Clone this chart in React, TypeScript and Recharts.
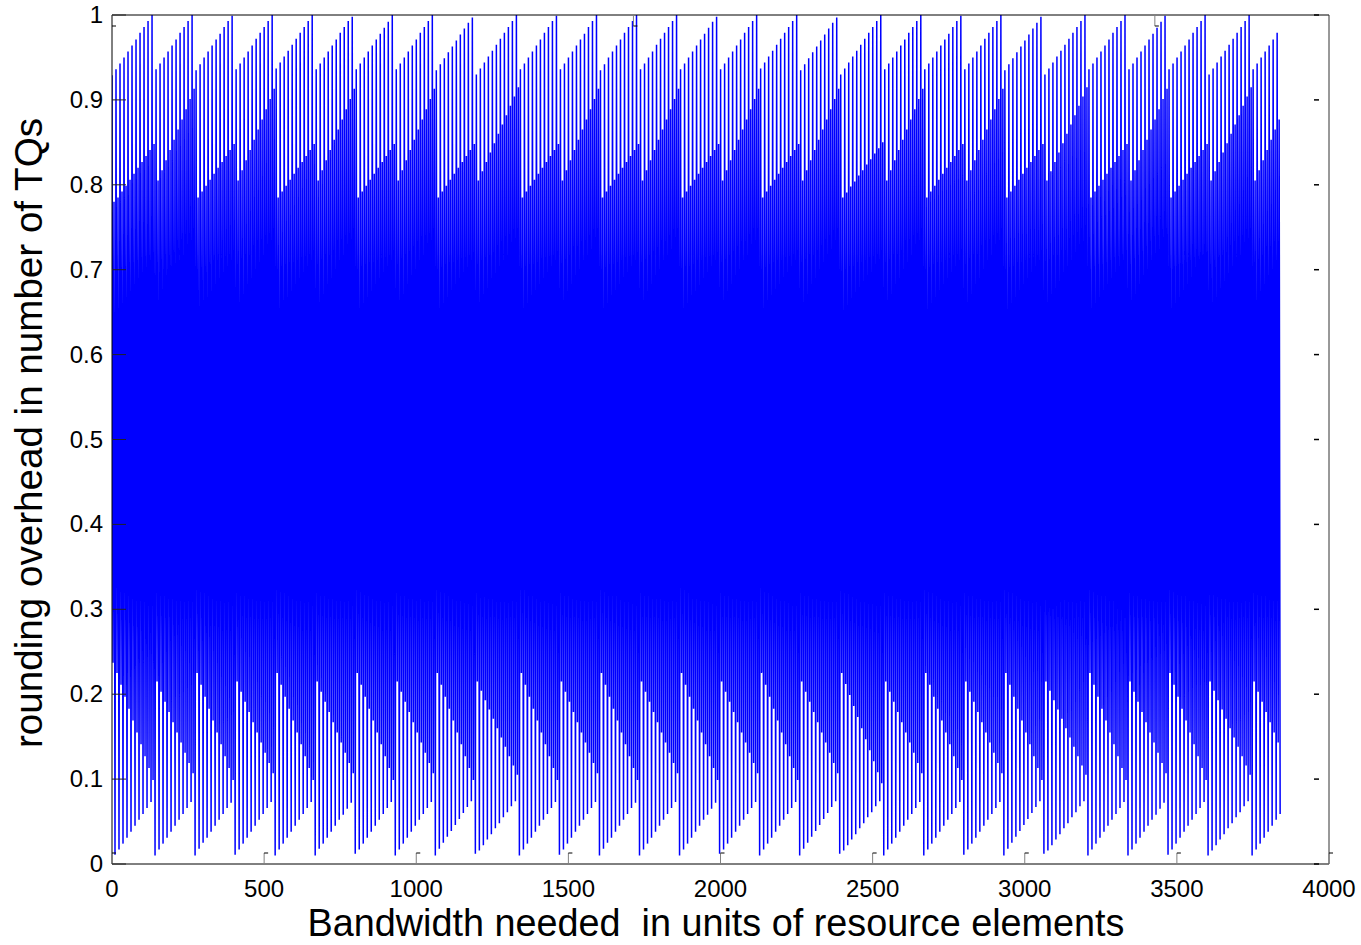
import { LineChart, Line, XAxis, YAxis } from 'recharts'

// axis ticks
const xTicks = [0, 500, 1000, 1500, 2000, 2500, 3000, 3500, 4000]
const yTicks = [0, 0.1, 0.2, 0.3, 0.4, 0.5, 0.6, 0.7, 0.8, 0.9, 1]

// one entry per visible tooth (about 13.16 resource elements wide)
// tallest peak of each tooth
const peakTop = [
    0.929, 0.936, 0.943, 0.950, 0.957, 0.964, 0.971, 0.979, 0.986, 0.993, 1.000,
    0.936, 0.943, 0.950, 0.957, 0.964, 0.971, 0.979, 0.986, 0.993, 1.000,
    0.935, 0.942, 0.950, 0.957, 0.964, 0.971, 0.978, 0.986, 0.993, 0.999,
    0.936, 0.943, 0.950, 0.957, 0.964, 0.972, 0.979, 0.986, 0.993, 1.000,
    0.937, 0.944, 0.951, 0.958, 0.965, 0.972, 0.979, 0.986, 0.993, 1.000,
    0.936, 0.943, 0.950, 0.957, 0.964, 0.971, 0.979, 0.986, 0.993, 0.998,
    0.936, 0.943, 0.950, 0.957, 0.964, 0.971, 0.978, 0.985, 0.992, 1.000,
    0.936, 0.943, 0.950, 0.957, 0.964, 0.971, 0.979, 0.986, 0.993, 1.000,
    0.935, 0.942, 0.949, 0.956, 0.963, 0.970, 0.977, 0.984, 0.991, 0.997,
    0.930, 0.937, 0.944, 0.951, 0.958, 0.965, 0.972, 0.979, 0.986, 0.993, 1.000,
    0.936, 0.943, 0.950, 0.957, 0.964, 0.971, 0.979, 0.986, 0.993, 0.999,
    0.936, 0.943, 0.950, 0.957, 0.964, 0.971, 0.978, 0.986, 0.993, 1.000,
    0.935, 0.942, 0.950, 0.957, 0.964, 0.971, 0.979, 0.986, 0.993, 1.000,
    0.936, 0.943, 0.950, 0.957, 0.965, 0.972, 0.979, 0.986, 0.993, 1.000,
    0.936, 0.943, 0.950, 0.957, 0.964, 0.971, 0.978, 0.985, 0.992, 0.998,
    0.936, 0.943, 0.950, 0.957, 0.964, 0.971, 0.979, 0.986, 0.993, 1.000,
    0.937, 0.944, 0.951, 0.958, 0.965, 0.972, 0.979, 0.986, 0.993, 1.000,
    0.935, 0.942, 0.949, 0.956, 0.963, 0.970, 0.977, 0.984, 0.991, 0.997,
    0.930, 0.937, 0.944, 0.951, 0.958, 0.965, 0.972, 0.979, 0.986, 0.993, 1.000,
    0.936, 0.943, 0.950, 0.957, 0.964, 0.971, 0.979, 0.986, 0.993, 1.000,
    0.936, 0.943, 0.950, 0.957, 0.964, 0.971, 0.978, 0.986, 0.993, 0.999,
    0.936, 0.943, 0.950, 0.957, 0.964, 0.972, 0.979, 0.986, 0.993, 1.000,
    0.935, 0.942, 0.949, 0.956, 0.963, 0.970, 0.977, 0.984, 0.991, 0.998,
    0.930, 0.937, 0.944, 0.951, 0.958, 0.965, 0.972, 0.979, 0.986, 0.993, 1.000,
    0.936, 0.943, 0.950, 0.957, 0.964, 0.971, 0.979, 0.986, 0.993, 1.000,
    0.936, 0.943, 0.950, 0.957, 0.964, 0.971, 0.978, 0.985, 0.992, 0.999,
    0.936, 0.943, 0.950, 0.957, 0.964, 0.971, 0.979, 0.986, 0.993, 1.000,
    0.930, 0.937, 0.944, 0.951, 0.958, 0.965, 0.972, 0.979, 0.986, 0.993, 1.000,
    0.936, 0.943, 0.950, 0.957, 0.964, 0.971, 0.979,
]

// lower edge of the dense part, right after the tall peak
const innerTrough = [
    0.237, 0.225, 0.211, 0.197, 0.183, 0.169, 0.155, 0.141, 0.127, 0.113, 0.099,
    0.215, 0.203, 0.191, 0.179, 0.167, 0.155, 0.143, 0.131, 0.119, 0.107,
    0.225, 0.211, 0.197, 0.183, 0.169, 0.155, 0.141, 0.127, 0.113, 0.099,
    0.215, 0.203, 0.191, 0.179, 0.167, 0.155, 0.143, 0.131, 0.119, 0.107,
    0.225, 0.211, 0.197, 0.183, 0.169, 0.155, 0.141, 0.127, 0.113, 0.099,
    0.215, 0.203, 0.191, 0.179, 0.167, 0.155, 0.143, 0.131, 0.119, 0.107,
    0.225, 0.211, 0.197, 0.183, 0.169, 0.155, 0.141, 0.127, 0.113, 0.099,
    0.215, 0.203, 0.191, 0.179, 0.167, 0.155, 0.143, 0.131, 0.119, 0.107,
    0.225, 0.211, 0.197, 0.183, 0.169, 0.155, 0.141, 0.127, 0.113, 0.099,
    0.215, 0.204, 0.193, 0.182, 0.171, 0.160, 0.149, 0.138, 0.127, 0.116, 0.105,
    0.225, 0.211, 0.197, 0.183, 0.169, 0.155, 0.141, 0.127, 0.113, 0.099,
    0.215, 0.203, 0.191, 0.179, 0.167, 0.155, 0.143, 0.131, 0.119, 0.107,
    0.225, 0.211, 0.197, 0.183, 0.169, 0.155, 0.141, 0.127, 0.113, 0.099,
    0.215, 0.203, 0.191, 0.179, 0.167, 0.155, 0.143, 0.131, 0.119, 0.107,
    0.225, 0.211, 0.197, 0.183, 0.169, 0.155, 0.141, 0.127, 0.113, 0.099,
    0.215, 0.203, 0.191, 0.179, 0.167, 0.155, 0.143, 0.131, 0.119, 0.107,
    0.225, 0.211, 0.197, 0.183, 0.169, 0.155, 0.141, 0.127, 0.113, 0.099,
    0.215, 0.203, 0.191, 0.179, 0.167, 0.155, 0.143, 0.131, 0.119, 0.107,
    0.225, 0.212, 0.199, 0.186, 0.173, 0.160, 0.147, 0.134, 0.121, 0.108, 0.095,
    0.215, 0.203, 0.191, 0.179, 0.167, 0.155, 0.143, 0.131, 0.119, 0.107,
    0.225, 0.211, 0.197, 0.183, 0.169, 0.155, 0.141, 0.127, 0.113, 0.099,
    0.215, 0.203, 0.191, 0.179, 0.167, 0.155, 0.143, 0.131, 0.119, 0.107,
    0.225, 0.211, 0.197, 0.183, 0.169, 0.155, 0.141, 0.127, 0.113, 0.099,
    0.215, 0.204, 0.193, 0.182, 0.171, 0.160, 0.149, 0.138, 0.127, 0.116, 0.105,
    0.225, 0.211, 0.197, 0.183, 0.169, 0.155, 0.141, 0.127, 0.113, 0.099,
    0.215, 0.203, 0.191, 0.179, 0.167, 0.155, 0.143, 0.131, 0.119, 0.107,
    0.225, 0.211, 0.197, 0.183, 0.169, 0.155, 0.141, 0.127, 0.113, 0.099,
    0.215, 0.204, 0.193, 0.182, 0.171, 0.160, 0.149, 0.138, 0.127, 0.116, 0.105,
    0.215, 0.203, 0.191, 0.179, 0.167, 0.155, 0.143,
]

// upper edge of the dense part (second, shorter spike of each tooth)
const innerPeak = [
    0.780, 0.785, 0.792, 0.799, 0.806, 0.813, 0.820, 0.827, 0.834, 0.841, 0.848,
    0.805, 0.817, 0.829, 0.841, 0.853, 0.865, 0.877, 0.889, 0.901, 0.913,
    0.785, 0.792, 0.799, 0.806, 0.813, 0.820, 0.827, 0.834, 0.841, 0.848,
    0.805, 0.817, 0.829, 0.841, 0.853, 0.865, 0.877, 0.889, 0.901, 0.913,
    0.785, 0.792, 0.799, 0.806, 0.813, 0.820, 0.827, 0.834, 0.841, 0.848,
    0.805, 0.817, 0.829, 0.841, 0.853, 0.865, 0.877, 0.889, 0.901, 0.913,
    0.785, 0.792, 0.799, 0.806, 0.813, 0.820, 0.827, 0.834, 0.841, 0.848,
    0.805, 0.817, 0.829, 0.841, 0.853, 0.865, 0.877, 0.889, 0.901, 0.913,
    0.785, 0.792, 0.799, 0.806, 0.813, 0.820, 0.827, 0.834, 0.841, 0.848,
    0.805, 0.816, 0.827, 0.838, 0.849, 0.860, 0.871, 0.882, 0.893, 0.904, 0.915,
    0.785, 0.792, 0.799, 0.806, 0.813, 0.820, 0.827, 0.834, 0.841, 0.848,
    0.805, 0.817, 0.829, 0.841, 0.853, 0.865, 0.877, 0.889, 0.901, 0.913,
    0.785, 0.792, 0.799, 0.806, 0.813, 0.820, 0.827, 0.834, 0.841, 0.848,
    0.805, 0.817, 0.829, 0.841, 0.853, 0.865, 0.877, 0.889, 0.901, 0.913,
    0.785, 0.792, 0.799, 0.806, 0.813, 0.820, 0.827, 0.834, 0.841, 0.848,
    0.805, 0.817, 0.829, 0.841, 0.853, 0.865, 0.877, 0.889, 0.901, 0.913,
    0.785, 0.792, 0.799, 0.806, 0.813, 0.820, 0.827, 0.834, 0.841, 0.848,
    0.805, 0.817, 0.829, 0.841, 0.853, 0.865, 0.877, 0.889, 0.901, 0.913,
    0.785, 0.791, 0.798, 0.804, 0.811, 0.817, 0.824, 0.830, 0.837, 0.843, 0.850,
    0.805, 0.817, 0.829, 0.841, 0.853, 0.865, 0.877, 0.889, 0.901, 0.913,
    0.785, 0.792, 0.799, 0.806, 0.813, 0.820, 0.827, 0.834, 0.841, 0.848,
    0.805, 0.817, 0.829, 0.841, 0.853, 0.865, 0.877, 0.889, 0.901, 0.913,
    0.785, 0.792, 0.799, 0.806, 0.813, 0.820, 0.827, 0.834, 0.841, 0.848,
    0.805, 0.816, 0.827, 0.838, 0.849, 0.860, 0.871, 0.882, 0.893, 0.904, 0.915,
    0.785, 0.792, 0.799, 0.806, 0.813, 0.820, 0.827, 0.834, 0.841, 0.848,
    0.805, 0.817, 0.829, 0.841, 0.853, 0.865, 0.877, 0.889, 0.901, 0.913,
    0.785, 0.792, 0.799, 0.806, 0.813, 0.820, 0.827, 0.834, 0.841, 0.848,
    0.805, 0.816, 0.827, 0.838, 0.849, 0.860, 0.871, 0.882, 0.893, 0.904, 0.915,
    0.805, 0.817, 0.829, 0.841, 0.853, 0.865, 0.877,
]

// deepest point of each tooth
const troughBottom = [
    0.011, 0.017, 0.024, 0.031, 0.038, 0.045, 0.052, 0.059, 0.066, 0.073, 0.010,
    0.017, 0.024, 0.031, 0.038, 0.045, 0.052, 0.059, 0.066, 0.073, 0.010,
    0.018, 0.025, 0.031, 0.038, 0.045, 0.052, 0.059, 0.066, 0.072, 0.011,
    0.017, 0.024, 0.031, 0.038, 0.045, 0.052, 0.059, 0.066, 0.073, 0.010,
    0.017, 0.024, 0.031, 0.038, 0.045, 0.052, 0.059, 0.066, 0.073, 0.010,
    0.018, 0.024, 0.031, 0.038, 0.045, 0.052, 0.058, 0.065, 0.072, 0.012,
    0.017, 0.024, 0.031, 0.038, 0.045, 0.052, 0.059, 0.066, 0.073, 0.010,
    0.017, 0.024, 0.031, 0.038, 0.045, 0.052, 0.059, 0.066, 0.073, 0.010,
    0.018, 0.025, 0.032, 0.039, 0.046, 0.053, 0.060, 0.067, 0.074, 0.012,
    0.016, 0.022, 0.029, 0.035, 0.042, 0.048, 0.055, 0.061, 0.068, 0.074, 0.010,
    0.017, 0.024, 0.031, 0.038, 0.045, 0.052, 0.059, 0.066, 0.073, 0.011,
    0.017, 0.024, 0.031, 0.038, 0.045, 0.052, 0.059, 0.066, 0.073, 0.010,
    0.018, 0.025, 0.031, 0.038, 0.045, 0.052, 0.059, 0.066, 0.072, 0.010,
    0.017, 0.024, 0.031, 0.038, 0.045, 0.052, 0.059, 0.066, 0.073, 0.010,
    0.017, 0.024, 0.031, 0.038, 0.045, 0.052, 0.058, 0.065, 0.072, 0.012,
    0.017, 0.024, 0.031, 0.038, 0.045, 0.052, 0.059, 0.066, 0.073, 0.010,
    0.017, 0.024, 0.031, 0.038, 0.045, 0.052, 0.059, 0.066, 0.073, 0.010,
    0.018, 0.025, 0.032, 0.039, 0.046, 0.053, 0.060, 0.067, 0.074, 0.012,
    0.016, 0.022, 0.029, 0.035, 0.042, 0.048, 0.055, 0.061, 0.068, 0.074, 0.010,
    0.017, 0.024, 0.031, 0.038, 0.045, 0.052, 0.059, 0.066, 0.073, 0.010,
    0.017, 0.024, 0.031, 0.038, 0.045, 0.052, 0.059, 0.066, 0.073, 0.011,
    0.017, 0.024, 0.031, 0.038, 0.045, 0.052, 0.059, 0.066, 0.073, 0.010,
    0.018, 0.025, 0.032, 0.039, 0.046, 0.053, 0.060, 0.067, 0.074, 0.012,
    0.016, 0.022, 0.029, 0.035, 0.042, 0.048, 0.055, 0.061, 0.068, 0.074, 0.010,
    0.017, 0.024, 0.031, 0.038, 0.045, 0.052, 0.059, 0.066, 0.073, 0.010,
    0.017, 0.024, 0.031, 0.038, 0.045, 0.052, 0.058, 0.065, 0.072, 0.011,
    0.017, 0.024, 0.031, 0.038, 0.045, 0.052, 0.059, 0.066, 0.073, 0.010,
    0.016, 0.022, 0.029, 0.035, 0.042, 0.048, 0.055, 0.061, 0.068, 0.074, 0.010,
    0.017, 0.024, 0.031, 0.038, 0.045, 0.052, 0.059,
]

const TOOTH = 13.16 // resource elements per tooth
const FONT = '"Liberation Sans", Arial, Helvetica, sans-serif'

const points = peakTop.flatMap((top, i) => {
    const x = i * TOOTH
    return [
        { x, y: top },
        { x: x + TOOTH / 4, y: innerTrough[i] },
        { x: x + TOOTH / 2, y: innerPeak[i] },
        { x: x + (3 * TOOTH) / 4, y: troughBottom[i] },
    ]
})

// plot box edges in px (matlab style box)
const LEFT = 112
const RIGHT = 1329
const TOP = 15
const BOTTOM = 864

function BottomTick({ x, payload }: any) {
    return (
        <g>
            <line x1={x} x2={x} y1={BOTTOM} y2={BOTTOM - 11} stroke="#808080" />
            <line x1={x} x2={x + 4} y1={BOTTOM - 11} y2={BOTTOM - 11} stroke="#000" />
            <text x={x} y={897} textAnchor="middle" fontSize={24} fontFamily={FONT} fill="#000">
                {payload.value}
            </text>
        </g>
    )
}

function TopTick({ x }: any) {
    return (
        <g>
            <line x1={x} x2={x} y1={TOP} y2={TOP + 11} stroke="#808080" />
            <line x1={x} x2={x + 4} y1={TOP + 11} y2={TOP + 11} stroke="#000" />
        </g>
    )
}

function LeftTick({ y, payload }: any) {
    return (
        <g>
            <line x1={LEFT} x2={LEFT + 14} y1={y} y2={y} stroke="#222" />
            <text x={103} y={y + 8} textAnchor="end" fontSize={24} fontFamily={FONT} fill="#000">
                {payload.value}
            </text>
        </g>
    )
}

function RightTick({ y }: any) {
    return <line x1={RIGHT - 15} x2={RIGHT - 10} y1={y} y2={y} stroke="#000" strokeWidth={1.5} />
}

export default function App() {
    return (
        <div style={{ position: 'absolute', left: 0, top: 0, width: 1361, height: 945, background: '#fff' }}>
            <LineChart
                width={1361}
                height={945}
                data={points}
                margin={{ top: 5, right: 22, bottom: 31, left: 32 }}
            >
                <Line
                    xAxisId="b"
                    yAxisId="l"
                    type="linear"
                    dataKey="y"
                    stroke="#0000ff"
                    strokeWidth={1.5}
                    dot={false}
                    activeDot={false}
                    isAnimationActive={false}
                />
                <XAxis
                    xAxisId="b"
                    dataKey="x"
                    type="number"
                    domain={[0, 4000]}
                    allowDataOverflow
                    ticks={xTicks}
                    interval={0}
                    height={50}
                    tickLine={false}
                    axisLine={{ stroke: '#000' }}
                    tick={<BottomTick />}
                    label={{
                        content: () => (
                            <text
                                x={716}
                                y={936}
                                textAnchor="middle"
                                fontSize={38}
                                fontFamily={FONT}
                                fill="#000"
                                textLength={817}
                                lengthAdjust="spacingAndGlyphs"
                                style={{ whiteSpace: 'pre' }}
                            >
                                Bandwidth needed  in units of resource elements
                            </text>
                        ),
                    }}
                />
                <XAxis
                    xAxisId="t"
                    orientation="top"
                    type="number"
                    domain={[0, 4000]}
                    allowDataOverflow
                    ticks={xTicks}
                    interval={0}
                    height={10}
                    tickLine={false}
                    axisLine={{ stroke: '#000' }}
                    tick={<TopTick />}
                />
                <YAxis
                    yAxisId="l"
                    type="number"
                    domain={[0, 1]}
                    allowDataOverflow
                    ticks={yTicks}
                    interval={0}
                    width={80}
                    tickLine={false}
                    axisLine={{ stroke: '#000' }}
                    tick={<LeftTick />}
                    label={{
                        content: () => (
                            <text
                                transform="rotate(-90)"
                                x={-433}
                                y={42}
                                textAnchor="middle"
                                fontSize={38}
                                fontFamily={FONT}
                                fill="#000"
                                textLength={630}
                                lengthAdjust="spacingAndGlyphs"
                            >
                                rounding overhead in number of TQs
                            </text>
                        ),
                    }}
                />
                <YAxis
                    yAxisId="r"
                    orientation="right"
                    type="number"
                    domain={[0, 1]}
                    allowDataOverflow
                    ticks={yTicks}
                    interval={0}
                    width={10}
                    tickLine={false}
                    axisLine={{ stroke: '#333' }}
                    tick={<RightTick />}
                />
            </LineChart>
        </div>
    )
}
